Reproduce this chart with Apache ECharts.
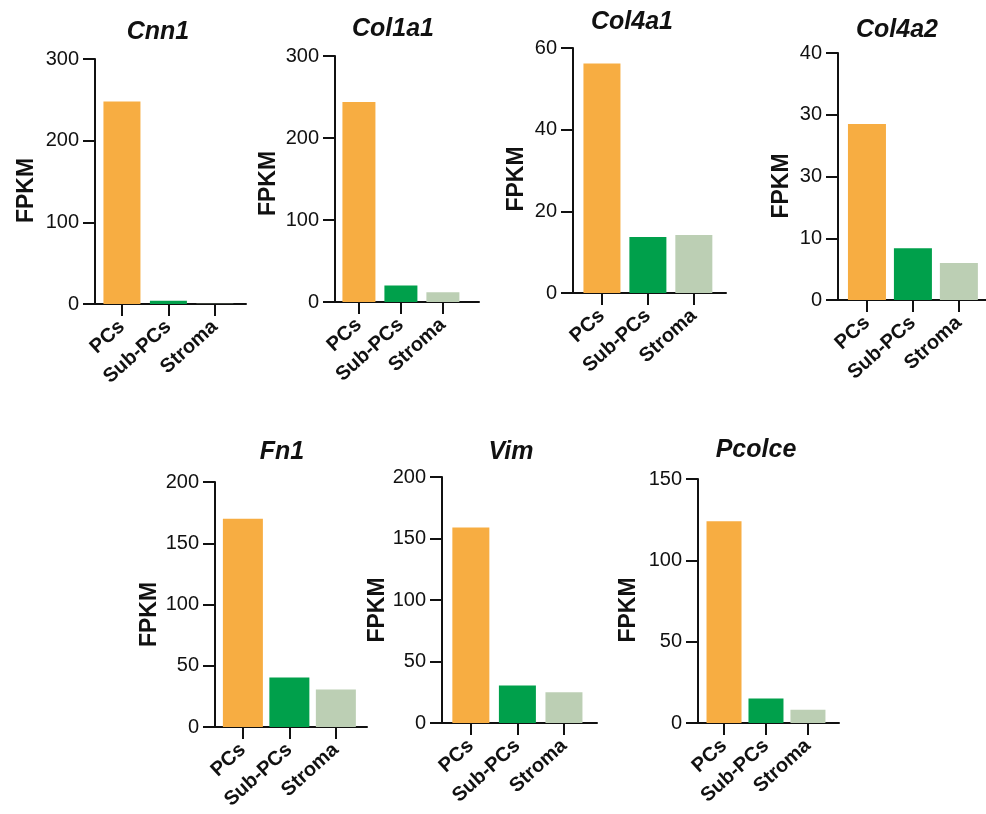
<!DOCTYPE html>
<html>
<head>
<meta charset="utf-8">
<script src="https://cdn.jsdelivr.net/npm/echarts@6/dist/echarts.min.js"></script>
<style>
html,body{margin:0;padding:0;background:#fff;}
#chart{width:986px;height:814px;}
</style>
</head>
<body>
<div id="chart"></div>
<script>
// ---- data ----
const categories = ['PCs', 'Sub-PCs', 'Stroma'];
const genes = ['Cnn1', 'Col1a1', 'Col4a1', 'Col4a2', 'Fn1', 'Vim', 'Pcolce'];
const cnn1 = [248, 4, 0.3];
const col1a1 = [244, 20, 12];
const col4a1 = [56.2, 13.7, 14.2];
const col4a2 = [28.5, 8.4, 6];
const fn1 = [170, 40.4, 30.6];
const vim = [159, 30.4, 25];
const pcolce = [124, 15, 8.2];
const seriesValues = [cnn1, col1a1, col4a1, col4a2, fn1, vim, pcolce];
const yMax = [300, 300, 60, 40, 200, 200, 150];
const yInterval = [100, 100, 20, 10, 50, 50, 50];
const tickLabels = [
  ['0', '100', '200', '300'],
  ['0', '100', '200', '300'],
  ['0', '20', '40', '60'],
  ['0', '10', '30', '30', '40'],
  ['0', '50', '100', '150', '200'],
  ['0', '50', '100', '150', '200'],
  ['0', '50', '100', '150']
];
const yName = 'FPKM';

// ---- layout & style (not data) ----
const barColors = ['#F7AD42', '#00A04B', '#BCCFB4'];
// axisX, axisEnd, top, bottom, xMin, xMax, barWidth, titleX, titleY, nameGap, nameShift
const layout = [
  [95, 246, 59, 304, -0.58, 2.67, 37, 158, 35, 57, 18],
  [335, 479, 56, 302, -0.57, 2.86, 33, 393, 32, 55, 9],
  [573, 726, 48, 293, -0.63, 2.70, 37, 632, 25, 45, 17],
  [838, 986, 53, 300, -0.63, 2.59, 38, 897, 33, 45, 19],
  [215, 367, 482, 727, -0.60, 2.67, 40, 282, 455, 54, 20],
  [442, 597, 477, 723, -0.62, 2.71, 37, 511, 455, 53, 20],
  [698, 839, 479, 723, -0.62, 2.74, 35, 756, 453, 58, 18]
];
const FONT = "'Liberation Sans', Arial, Helvetica, sans-serif";
const INK = '#111111';

const grids = [], xAxes = [], yAxes = [], series = [], titles = [];
genes.forEach((g, p) => {
  const L = layout[p];
  grids.push({left: L[0], top: L[2], width: L[1] - L[0], height: L[3] - L[2], containLabel: false});
  titles.push({
    text: g, left: L[7], top: L[8] - 15, textAlign: 'center', padding: 0,
    textStyle: {fontFamily: FONT, fontSize: 25, fontWeight: 'bold', fontStyle: 'italic', color: INK}
  });
  xAxes.push({
    type: 'value', gridIndex: p, min: L[4], max: L[5],
    splitLine: {show: false},
    axisLine: {show: true, onZero: false, lineStyle: {color: INK, width: 2}},
    axisTick: {show: true, customValues: [0, 1, 2], length: 12, lineStyle: {color: INK, width: 2}},
    axisLabel: {
      customValues: [0, 1, 2], rotate: 42, margin: 20,
      formatter: v => categories[Math.round(v)] || '',
      fontFamily: FONT, fontSize: 20, fontWeight: 'bold', color: INK
    }
  });
  yAxes.push({
    type: 'value', gridIndex: p, min: 0, max: yMax[p], interval: yInterval[p],
    name: yName, nameLocation: 'middle', nameGap: L[9],
    nameTextStyle: {fontFamily: FONT, fontSize: 23, fontWeight: 'bold', color: INK, padding: [0, L[10], 0, 0]},
    splitLine: {show: false},
    axisLine: {show: true, onZero: false, lineStyle: {color: INK, width: 2}},
    axisTick: {show: true, length: 12, lineStyle: {color: INK, width: 2}},
    axisLabel: {
      margin: 16, fontFamily: FONT, fontSize: 20, color: INK,
      formatter: v => tickLabels[p][Math.round(v / yInterval[p])]
    }
  });
  series.push({
    type: 'bar', xAxisIndex: p, yAxisIndex: p, barWidth: L[6],
    silent: true, animation: false,
    data: seriesValues[p].map((v, i) => ({value: [i, v], itemStyle: {color: barColors[i]}}))
  });
});

const chart = echarts.init(document.getElementById('chart'), null, {renderer: 'canvas'});
chart.setOption({
  backgroundColor: '#ffffff',
  animation: false,
  title: titles,
  grid: grids,
  xAxis: xAxes,
  yAxis: yAxes,
  series: series
});
</script>
</body>
</html>
